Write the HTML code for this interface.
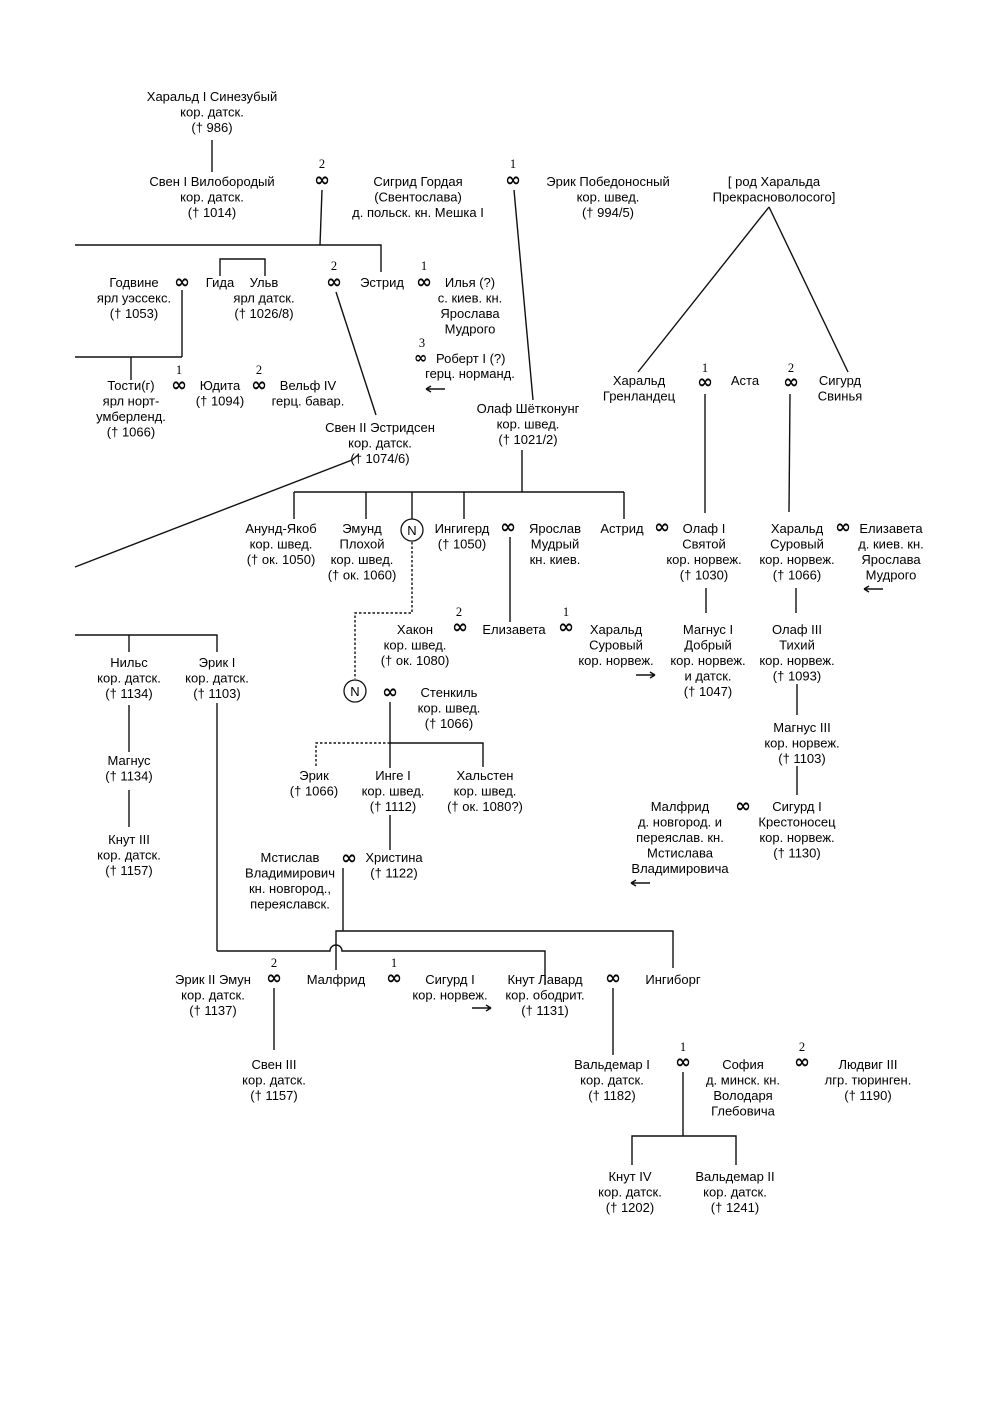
<!DOCTYPE html>
<html><head><meta charset="utf-8"><style>
html,body{margin:0;padding:0;background:#fff}
svg{display:block}
text{font-family:"Liberation Sans",sans-serif;font-size:13px;fill:#000}
.n{font-family:"Liberation Serif",serif;font-size:12.5px}
.i{font-family:"DejaVu Sans",sans-serif;font-size:19px;font-weight:bold}
line,path,polyline{stroke:#111;stroke-width:1.4;fill:none}
.d{stroke-dasharray:2.5,2}
</style></head><body>
<svg width="1000" height="1414" viewBox="0 0 1000 1414">
<g text-anchor="middle">
<text x="212" y="101">Харальд I Синезубый<tspan x="212" dy="15.5">кор. датск.</tspan><tspan x="212" dy="15.5">(† 986)</tspan></text>
<text x="212" y="186">Свен I Вилобородый<tspan x="212" dy="15.5">кор. датск.</tspan><tspan x="212" dy="15.5">(† 1014)</tspan></text>
<text x="418" y="186">Сигрид Гордая<tspan x="418" dy="15.5">(Свентослава)</tspan><tspan x="418" dy="15.5">д. польск. кн. Мешка I</tspan></text>
<text x="608" y="186">Эрик Победоносный<tspan x="608" dy="15.5">кор. швед.</tspan><tspan x="608" dy="15.5">(† 994/5)</tspan></text>
<text x="774" y="186">[ род Харальда<tspan x="774" dy="15.5">Прекрасноволосого]</tspan></text>
<text x="134" y="287">Годвине<tspan x="134" dy="15.5">ярл уэссекс.</tspan><tspan x="134" dy="15.5">(† 1053)</tspan></text>
<text x="220" y="287">Гида</text>
<text x="264" y="287">Ульв<tspan x="264" dy="15.5">ярл датск.</tspan><tspan x="264" dy="15.5">(† 1026/8)</tspan></text>
<text x="382" y="287">Эстрид</text>
<text x="470" y="287">Илья (?)<tspan x="470" dy="15.5">с. киев. кн.</tspan><tspan x="470" dy="15.5">Ярослава</tspan><tspan x="470" dy="15.5">Мудрого</tspan></text>
<text x="470" y="378">герц. норманд.</text>
<text x="131" y="390">Тости(г)<tspan x="131" dy="15.5">ярл норт-</tspan><tspan x="131" dy="15.5">умберленд.</tspan><tspan x="131" dy="15.5">(† 1066)</tspan></text>
<text x="220" y="390">Юдита<tspan x="220" dy="15.5">(† 1094)</tspan></text>
<text x="308" y="390">Вельф IV<tspan x="308" dy="15.5">герц. бавар.</tspan></text>
<text x="380" y="432">Свен II Эстридсен<tspan x="380" dy="15.5">кор. датск.</tspan><tspan x="380" dy="15.5">(† 1074/6)</tspan></text>
<text x="528" y="413">Олаф Шётконунг<tspan x="528" dy="15.5">кор. швед.</tspan><tspan x="528" dy="15.5">(† 1021/2)</tspan></text>
<text x="639" y="385">Харальд<tspan x="639" dy="15.5">Гренландец</tspan></text>
<text x="745" y="385">Аста</text>
<text x="840" y="385">Сигурд<tspan x="840" dy="15.5">Свинья</tspan></text>
<text x="281" y="533">Анунд-Якоб<tspan x="281" dy="15.5">кор. швед.</tspan><tspan x="281" dy="15.5">(† ок. 1050)</tspan></text>
<text x="362" y="533">Эмунд<tspan x="362" dy="15.5">Плохой</tspan><tspan x="362" dy="15.5">кор. швед.</tspan><tspan x="362" dy="15.5">(† ок. 1060)</tspan></text>
<text x="462" y="533">Ингигерд<tspan x="462" dy="15.5">(† 1050)</tspan></text>
<text x="555" y="533">Ярослав<tspan x="555" dy="15.5">Мудрый</tspan><tspan x="555" dy="15.5">кн. киев.</tspan></text>
<text x="622" y="533">Астрид</text>
<text x="704" y="533">Олаф I<tspan x="704" dy="15.5">Святой</tspan><tspan x="704" dy="15.5">кор. норвеж.</tspan><tspan x="704" dy="15.5">(† 1030)</tspan></text>
<text x="797" y="533">Харальд<tspan x="797" dy="15.5">Суровый</tspan><tspan x="797" dy="15.5">кор. норвеж.</tspan><tspan x="797" dy="15.5">(† 1066)</tspan></text>
<text x="891" y="533">Елизавета<tspan x="891" dy="15.5">д. киев. кн.</tspan><tspan x="891" dy="15.5">Ярослава</tspan><tspan x="891" dy="15.5">Мудрого</tspan></text>
<text x="415" y="634">Хакон<tspan x="415" dy="15.5">кор. швед.</tspan><tspan x="415" dy="15.5">(† ок. 1080)</tspan></text>
<text x="514" y="634">Елизавета</text>
<text x="616" y="634">Харальд<tspan x="616" dy="15.5">Суровый</tspan><tspan x="616" dy="15.5">кор. норвеж.</tspan></text>
<text x="708" y="634">Магнус I<tspan x="708" dy="15.5">Добрый</tspan><tspan x="708" dy="15.5">кор. норвеж.</tspan><tspan x="708" dy="15.5">и датск.</tspan><tspan x="708" dy="15.5">(† 1047)</tspan></text>
<text x="797" y="634">Олаф III<tspan x="797" dy="15.5">Тихий</tspan><tspan x="797" dy="15.5">кор. норвеж.</tspan><tspan x="797" dy="15.5">(† 1093)</tspan></text>
<text x="129" y="667">Нильс<tspan x="129" dy="15.5">кор. датск.</tspan><tspan x="129" dy="15.5">(† 1134)</tspan></text>
<text x="217" y="667">Эрик I<tspan x="217" dy="15.5">кор. датск.</tspan><tspan x="217" dy="15.5">(† 1103)</tspan></text>
<text x="449" y="697">Стенкиль<tspan x="449" dy="15.5">кор. швед.</tspan><tspan x="449" dy="15.5">(† 1066)</tspan></text>
<text x="802" y="732">Магнус III<tspan x="802" dy="15.5">кор. норвеж.</tspan><tspan x="802" dy="15.5">(† 1103)</tspan></text>
<text x="129" y="765">Магнус<tspan x="129" dy="15.5">(† 1134)</tspan></text>
<text x="314" y="780">Эрик<tspan x="314" dy="15.5">(† 1066)</tspan></text>
<text x="393" y="780">Инге I<tspan x="393" dy="15.5">кор. швед.</tspan><tspan x="393" dy="15.5">(† 1112)</tspan></text>
<text x="485" y="780">Хальстен<tspan x="485" dy="15.5">кор. швед.</tspan><tspan x="485" dy="15.5">(† ок. 1080?)</tspan></text>
<text x="680" y="811">Малфрид<tspan x="680" dy="15.5">д. новгород. и</tspan><tspan x="680" dy="15.5">переяслав. кн.</tspan><tspan x="680" dy="15.5">Мстислава</tspan><tspan x="680" dy="15.5">Владимировича</tspan></text>
<text x="797" y="811">Сигурд I<tspan x="797" dy="15.5">Крестоносец</tspan><tspan x="797" dy="15.5">кор. норвеж.</tspan><tspan x="797" dy="15.5">(† 1130)</tspan></text>
<text x="129" y="844">Кнут III<tspan x="129" dy="15.5">кор. датск.</tspan><tspan x="129" dy="15.5">(† 1157)</tspan></text>
<text x="290" y="862">Мстислав<tspan x="290" dy="15.5">Владимирович</tspan><tspan x="290" dy="15.5">кн. новгород.,</tspan><tspan x="290" dy="15.5">переяславск.</tspan></text>
<text x="394" y="862">Христина<tspan x="394" dy="15.5">(† 1122)</tspan></text>
<text x="213" y="984">Эрик II Эмун<tspan x="213" dy="15.5">кор. датск.</tspan><tspan x="213" dy="15.5">(† 1137)</tspan></text>
<text x="336" y="984">Малфрид</text>
<text x="450" y="984">Сигурд I<tspan x="450" dy="15.5">кор. норвеж.</tspan></text>
<text x="545" y="984">Кнут Лавард<tspan x="545" dy="15.5">кор. ободрит.</tspan><tspan x="545" dy="15.5">(† 1131)</tspan></text>
<text x="673" y="984">Ингиборг</text>
<text x="274" y="1069">Свен III<tspan x="274" dy="15.5">кор. датск.</tspan><tspan x="274" dy="15.5">(† 1157)</tspan></text>
<text x="612" y="1069">Вальдемар I<tspan x="612" dy="15.5">кор. датск.</tspan><tspan x="612" dy="15.5">(† 1182)</tspan></text>
<text x="743" y="1069">София<tspan x="743" dy="15.5">д. минск. кн.</tspan><tspan x="743" dy="15.5">Володаря</tspan><tspan x="743" dy="15.5">Глебовича</tspan></text>
<text x="868" y="1069">Людвиг III<tspan x="868" dy="15.5">лгр. тюринген.</tspan><tspan x="868" dy="15.5">(† 1190)</tspan></text>
<text x="630" y="1181">Кнут IV<tspan x="630" dy="15.5">кор. датск.</tspan><tspan x="630" dy="15.5">(† 1202)</tspan></text>
<text x="735" y="1181">Вальдемар II<tspan x="735" dy="15.5">кор. датск.</tspan><tspan x="735" dy="15.5">(† 1241)</tspan></text>

<text class="n" x="322" y="168">2</text><text class="n" x="513" y="168">1</text>
<text class="n" x="334" y="270">2</text><text class="n" x="424" y="270">1</text>
<text class="n" x="422" y="347">3</text>
<text class="n" x="179" y="374">1</text><text class="n" x="259" y="374">2</text>
<text class="n" x="705" y="372">1</text><text class="n" x="791" y="372">2</text>
<text class="n" x="459" y="616">2</text><text class="n" x="566" y="616">1</text>
<text class="n" x="274" y="967">2</text><text class="n" x="394" y="967">1</text>
<text class="n" x="683" y="1051">1</text><text class="n" x="802" y="1051">2</text>
<text class="i" x="322" y="186">∞</text><text class="i" x="513" y="186">∞</text>
<text class="i" x="182" y="288">∞</text><text class="i" x="334" y="288">∞</text><text class="i" x="424" y="288">∞</text>
<text class="i" x="179" y="391">∞</text><text class="i" x="259" y="391">∞</text>
<text class="i" x="705" y="388">∞</text><text class="i" x="791" y="388">∞</text>
<text class="i" x="508" y="533">∞</text><text class="i" x="662" y="533">∞</text><text class="i" x="843" y="533">∞</text>
<text class="i" x="460" y="633">∞</text><text class="i" x="566" y="633">∞</text>
<text class="i" x="390" y="698">∞</text><text class="i" x="743" y="812">∞</text><text class="i" x="349" y="864">∞</text>
<text class="i" x="274" y="984">∞</text><text class="i" x="394" y="984">∞</text><text class="i" x="613" y="984">∞</text>
<text class="i" x="683" y="1068">∞</text><text class="i" x="802" y="1068">∞</text>
<circle cx="412" cy="530" r="11" fill="none" stroke="#111" stroke-width="1.3"/><text x="412" y="535">N</text>
<circle cx="355" cy="691" r="11" fill="none" stroke="#111" stroke-width="1.3"/><text x="355" y="696">N</text>
</g>
<text x="414" y="363" class="i" style="font-size:16px">∞</text><text x="436" y="363">Роберт I (?)</text>

<!-- arrows -->
<path d="M426,389 H445 M426,389 l5,-3 M426,389 l5,3"/>
<path d="M864,589 H883 M864,589 l5,-3 M864,589 l5,3"/>
<path d="M636,675 H655 M655,675 l-5,-3 M655,675 l-5,3"/>
<path d="M631,883 H650 M631,883 l5,-3 M631,883 l5,3"/>
<path d="M472,1008 H491 M491,1008 l-5,-3 M491,1008 l-5,3"/>

<line x1="212" y1="140" x2="212" y2="172"/>
<line x1="322" y1="190" x2="320" y2="245"/>
<polyline points="75,245 381,245 381,272"/>
<line x1="182" y1="290" x2="182" y2="357"/>
<polyline points="75,357 182,357"/>
<line x1="131" y1="357" x2="131" y2="380"/>
<polyline points="220,276 220,259 265,259 265,276"/>
<line x1="336" y1="292" x2="376" y2="415"/>
<line x1="514" y1="190" x2="533" y2="400"/>
<polyline points="358,455 352,460 75,567"/>
<line x1="522" y1="450" x2="522" y2="492"/>
<line x1="294" y1="492" x2="624" y2="492"/>
<line x1="294" y1="492" x2="294" y2="519"/><line x1="366" y1="492" x2="366" y2="519"/>
<line x1="412" y1="492" x2="412" y2="519"/><line x1="464" y1="492" x2="464" y2="519"/>
<line x1="624" y1="492" x2="624" y2="519"/>
<line x1="769" y1="207" x2="638" y2="372"/><line x1="769" y1="207" x2="848" y2="372"/>
<line x1="705" y1="394" x2="705" y2="513"/><line x1="790" y1="394" x2="789" y2="512"/>
<line x1="510" y1="537" x2="510" y2="622"/>
<polyline class="d" points="412,542 412,613 355,613 355,679"/>
<line x1="706" y1="588" x2="706" y2="613"/><line x1="796" y1="588" x2="796" y2="613"/>
<line x1="797" y1="684" x2="797" y2="715"/><line x1="797" y1="766" x2="797" y2="795"/>
<polyline points="75,635 217,635 217,652"/><line x1="129" y1="635" x2="129" y2="652"/>
<line x1="217" y1="703" x2="217" y2="951"/>
<line x1="129" y1="705" x2="129" y2="752"/><line x1="129" y1="790" x2="129" y2="827"/>
<line x1="390" y1="702" x2="390" y2="768"/>
<polyline points="390,743 483,743 483,767"/>
<polyline class="d" points="390,743 316,743 316,767"/>
<line x1="390" y1="815" x2="390" y2="850"/>
<line x1="343" y1="868" x2="343" y2="931"/>
<polyline points="336,970 336,931 673,931 673,968"/>
<path d="M217,951 H330 A6,6 0 0 1 342,951 H545 V985"/>
<line x1="274" y1="988" x2="274" y2="1050"/>
<line x1="613" y1="988" x2="613" y2="1055"/>
<line x1="683" y1="1072" x2="683" y2="1136"/>
<polyline points="632,1165 632,1136 736,1136 736,1165"/>
</svg>
</body></html>
